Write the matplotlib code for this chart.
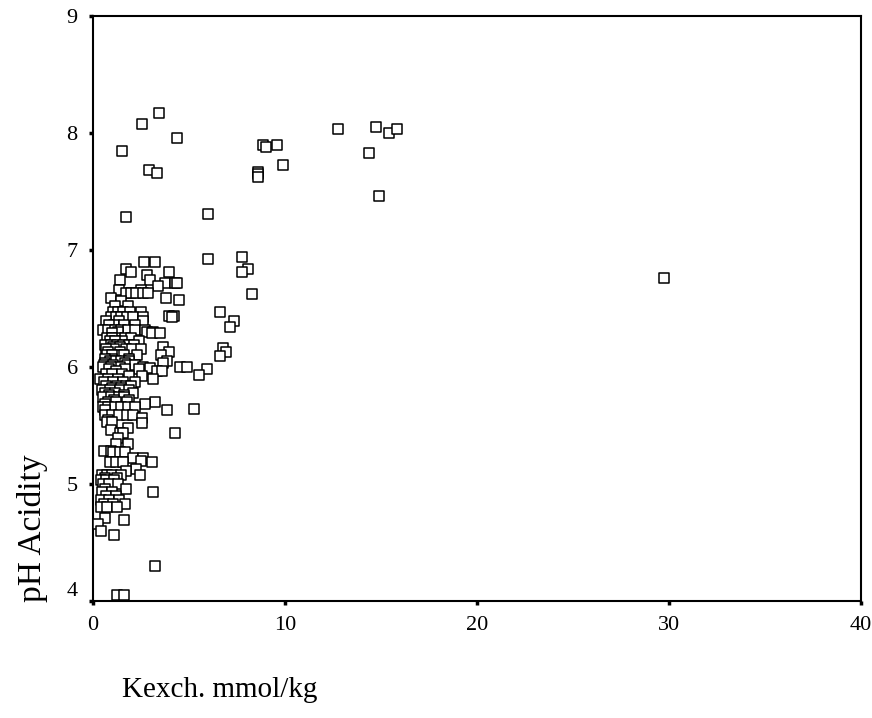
import numpy as np
import matplotlib.pyplot as plt

plt.rcParams['font.family'] = ['Liberation Serif', 'DejaVu Serif']

# dense cluster: one pH level with the Kexch values read at that level
ph_levels = [6.90, 6.84, 6.81, 6.79, 6.74, 6.72, 6.69, 6.66, 6.63, 6.59,
             6.57, 6.56, 6.52, 6.47, 6.44, 6.43, 6.39, 6.36, 6.32, 6.30,
             6.29, 6.25, 6.22, 6.19, 6.17, 6.15, 6.13, 6.10, 6.07, 6.05,
             6.03, 6.02, 6.00, 5.99, 5.98, 5.97, 5.94, 5.92, 5.90, 5.87,
             5.84, 5.82, 5.80, 5.78, 5.76, 5.74, 5.72, 5.70, 5.68, 5.66,
             5.63, 5.59, 5.56, 5.55, 5.53, 5.52, 5.48, 5.46, 5.44, 5.39,
             5.34, 5.28, 5.27, 5.22, 5.20, 5.19, 5.13, 5.11, 5.08, 5.05,
             5.03, 5.00, 4.96, 4.93, 4.90, 4.86, 4.83, 4.80, 4.71, 4.69,
             4.66, 4.60, 4.56, 4.05]
kexch_at_level = [
    [2.64, 3.24], [1.70], [2.00, 3.96], [2.83], [1.39, 2.95],
    [3.73, 4.25, 4.36], [3.39], [1.35, 2.52], [1.73, 2.00, 2.26, 2.60, 2.86],
    [0.95, 3.78], [4.48], [1.44], [1.82, 1.15], [1.04, 1.30, 1.56, 1.91, 2.52],
    [3.96, 4.22], [0.94, 1.20, 1.46, 1.77, 2.08, 2.60, 4.10], [0.69, 2.60, 1.35],
    [1.10, 1.60, 2.20, 0.85], [0.52, 0.80, 1.13, 1.47, 1.82, 2.17, 2.69], [2.80, 3.13, 1.30],
    [1.00, 3.05, 3.49], [0.75, 1.30, 1.65, 2.00, 1.00], [0.90, 1.50, 2.40, 1.15],
    [0.62, 0.95, 1.25, 1.55, 1.85, 2.15], [3.66, 1.05, 1.40], [1.10, 1.70, 2.05, 2.50, 0.70],
    [3.97, 0.80, 1.40], [0.75, 1.30, 1.60, 2.30, 3.53, 1.00], [1.00, 1.85, 0.60],
    [0.90, 1.20, 1.45, 1.90, 3.84], [3.66, 0.60, 1.65], [0.55, 1.05, 1.75, 2.20],
    [0.52, 1.40, 2.62, 4.53, 4.91, 0.95], [2.97], [0.85, 1.65, 2.40], [1.20, 3.32, 3.58],
    [0.70, 1.00, 1.50], [2.54, 1.85], [0.35, 0.80, 1.30, 3.14],
    [0.55, 1.05, 1.55, 2.20], [0.70, 1.25, 1.70, 2.00], [1.00, 1.45],
    [0.45, 0.90, 1.40, 1.85], [0.65, 1.15, 2.08], [0.85, 1.60],
    [0.50, 0.95, 1.35, 1.60], [1.10, 1.90], [0.80, 1.20, 1.75, 3.23], [2.71, 0.60],
    [0.52, 0.78, 1.13, 1.47, 1.82, 2.17], [0.65, 3.87], [0.60, 1.00, 1.35, 1.75, 2.10],
    [2.53], [0.80], [0.75, 1.00], [2.53], [1.82], [0.95], [1.39, 1.56], [1.30],
    [1.21, 1.82], [0.57, 0.95], [1.05, 1.40, 1.65], [2.08, 2.59], [2.52],
    [0.87, 1.20, 1.55, 3.05], [2.26], [1.70], [0.45, 0.75, 1.00, 1.45, 2.43],
    [0.60, 1.25], [0.40, 0.70, 1.10], [0.50, 0.85, 1.30], [0.60, 1.74],
    [0.45, 1.00], [0.70, 1.20], [0.40, 0.85, 1.35], [0.55, 1.05, 1.65],
    [0.40, 0.75, 1.25], [0.61], [1.61], [0.26], [0.40], [1.09], [1.27, 1.61]]

# scattered points away from the cluster
kexch_out = [1.49, 2.54, 3.44, 4.36, 2.93, 3.35, 1.72, 6.00, 6.00, 7.74,
             8.06, 7.74, 8.27, 8.87, 9.00, 9.60, 9.91, 8.58, 8.58, 8.58,
             12.78, 14.72, 15.43, 15.82, 14.39, 14.91, 29.74, 6.75, 6.93, 6.61,
             7.34, 7.14, 6.61, 5.92, 5.52, 5.28, 4.27, 3.13, 3.21]
ph_out = [7.85, 8.08, 8.17, 7.96, 7.68, 7.66, 7.28, 7.31, 6.92, 6.94,
          6.84, 6.81, 6.62, 7.90, 7.88, 7.90, 7.73, 7.67, 7.65, 7.62,
          8.03, 8.05, 8.00, 8.03, 7.83, 7.46, 6.76, 6.16, 6.13, 6.09,
          6.39, 6.34, 6.47, 5.98, 5.93, 5.64, 5.44, 4.93, 4.30]

kexch = []
ph = []
for level, xs in zip(ph_levels, kexch_at_level):
    kexch.extend(xs)
    ph.extend([level] * len(xs))
kexch = np.array(kexch + kexch_out)
ph = np.array(ph + ph_out)

fig = plt.figure(figsize=(8.72, 7.18), dpi=100)
ax = fig.add_axes([93 / 872, 1 - 601 / 718, 768 / 872, 585 / 718])

ax.scatter(kexch, ph, marker='s', s=42, facecolors='white',
           edgecolors='black', linewidths=1.1, clip_on=False, zorder=3)

ax.set_xlim(0, 40)
ax.set_ylim(4, 9)
ax.set_xticks([0, 10, 20, 30, 40])
ax.set_yticks([4, 5, 6, 7, 8, 9])
ax.tick_params(direction='out', length=3, width=2.5, labelsize=16, pad=8)
for s in ax.spines.values():
    s.set_linewidth(1.5)
ax.get_yticklabels()[0].set_va('bottom')

fig.text(33 / 872, 1 - 602 / 718, 'pH Acidity', rotation=90, fontsize=24,
         ha='center', va='bottom')
fig.text(122 / 872, 1 - 690 / 718, 'Kexch. mmol/kg', fontsize=21,
         ha='left', va='center')

fig.savefig('out.png', dpi=100)
